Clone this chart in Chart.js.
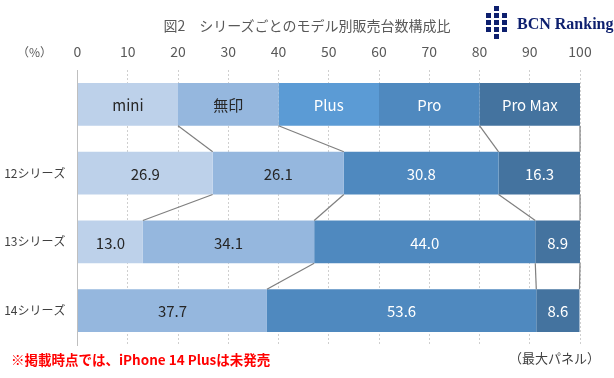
<!DOCTYPE html>
<html>
<head>
<meta charset="utf-8">
<script src="https://cdn.jsdelivr.net/npm/chart.js@4"></script>
<style>
  html, body { margin: 0; padding: 0; background: #fff; }
  #wrap { position: relative; width: 614px; height: 378px; overflow: hidden; font-family: "Noto Sans CJK JP", sans-serif; }
  #c { position: absolute; left: 0; top: 0; }
  .txt { position: absolute; white-space: nowrap; line-height: 1; }
  #title { left: 0; width: 614px; text-align: center; top: 18px; font-size: 14px; color: #595959; }
  #pct { left: 17px; top: 46px; font-size: 12px; color: #595959; }
  #note { left: 11px; top: 353px; font-size: 13.5px; font-weight: bold; color: #ff0000; }
  #panel { left: 509px; top: 351px; font-size: 13px; color: #404040; }
  #logo-text { left: 517px; top: 16px; font-family: "Liberation Serif", serif; font-weight: bold; font-size: 16px; color: #0d1f6e; }
  .sq { position: absolute; width: 5px; height: 5px; background: #0d1f6e; }
</style>
</head>
<body>
<div id="wrap">
  <canvas id="c" width="614" height="378"></canvas>
  <div class="txt" id="title">図2　シリーズごとのモデル別販売台数構成比</div>
  <div class="txt" id="pct">（%）</div>
  <div class="txt" id="note">※掲載時点では、iPhone 14 Plusは未発売</div>
  <div class="txt" id="panel">（最大パネル）</div>
  <div id="logo">
    <div class="sq" style="left:494px;top:6px"></div>
    <div class="sq" style="left:486px;top:13px"></div>
    <div class="sq" style="left:494px;top:13px"></div>
    <div class="sq" style="left:502px;top:13px"></div>
    <div class="sq" style="left:486px;top:20px"></div>
    <div class="sq" style="left:494px;top:20px"></div>
    <div class="sq" style="left:502px;top:20px"></div>
    <div class="sq" style="left:486px;top:27px"></div>
    <div class="sq" style="left:494px;top:27px"></div>
    <div class="sq" style="left:502px;top:27px"></div>
    <div class="sq" style="left:494px;top:34px"></div>
  </div>
  <div class="txt" id="logo-text">BCN Ranking</div>
</div>
<script>
// ---- data ----
const categories = ['', '12シリーズ', '13シリーズ', '14シリーズ'];
const seriesNames = ['mini', '無印', 'Plus', 'Pro', 'Pro Max'];
const miniValues = [20, 26.9, 13.0, 0];
const standardValues = [20, 26.1, 34.1, 37.7];
const plusValues = [20, 0, 0, 0];
const proValues = [20, 30.8, 44.0, 53.6];
const proMaxValues = [20, 16.3, 8.9, 8.6];
const xTickValues = [0, 10, 20, 30, 40, 50, 60, 70, 80, 90, 100];

// ---- styles ----
const seriesColors = ['#bdd1ea', '#95b7de', '#5b9bd5', '#4f89bf', '#44739f'];
const labelColors = ['#262626', '#262626', '#ffffff', '#ffffff', '#ffffff'];
const FONT = '"Noto Sans CJK JP", sans-serif';
Chart.defaults.font.family = FONT;

const seriesData = [miniValues, standardValues, plusValues, proValues, proMaxValues];

const labelPlugin = {
  id: 'barLabels',
  afterDatasetsDraw(chart) {
    const ctx = chart.ctx;
    const xScale = chart.scales.x;
    ctx.save();
    // connector (series) lines
    ctx.strokeStyle = '#7f7f7f';
    ctx.lineWidth = 1.2;
    for (let r = 0; r < categories.length - 1; r++) {
      for (let s = 0; s < seriesData.length; s++) {
        if (seriesData[s][r + 1] === 0) continue;
        let cu = 0, cl = 0;
        for (let k = 0; k <= s; k++) { cu += seriesData[k][r]; cl += seriesData[k][r + 1]; }
        const up = chart.getDatasetMeta(s).data[r];
        const lo = chart.getDatasetMeta(s).data[r + 1];
        const y1 = up.y + up.height / 2;
        const y2 = lo.y - lo.height / 2;
        ctx.beginPath();
        ctx.moveTo(xScale.getPixelForValue(Math.min(cu, 100)), y1);
        ctx.lineTo(xScale.getPixelForValue(Math.min(cl, 100)), y2);
        ctx.stroke();
      }
    }
    // labels
    ctx.font = '15px ' + FONT;
    ctx.textAlign = 'center';
    ctx.textBaseline = 'middle';
    chart.data.datasets.forEach((ds, s) => {
      const meta = chart.getDatasetMeta(s);
      meta.data.forEach((el, j) => {
        const v = ds.data[j];
        if (!v) return;
        const cx = (el.x + el.base) / 2;
        ctx.fillStyle = labelColors[s];
        const txt = j === 0 ? seriesNames[s] : v.toFixed(1);
        ctx.fillText(txt, cx, el.y + 1);
      });
    });
    ctx.restore();
  }
};

new Chart(document.getElementById('c'), {
  type: 'bar',
  data: {
    labels: categories,
    datasets: seriesData.map((d, i) => ({
      label: seriesNames[i],
      data: d,
      backgroundColor: seriesColors[i],
      borderWidth: 0,
      barPercentage: 0.62,
      categoryPercentage: 1.0
    }))
  },
  options: {
    indexAxis: 'y',
    responsive: false,
    animation: false,
    layout: { padding: { left: 0, top: 0, right: 34, bottom: 33 } },
    plugins: { legend: { display: false }, tooltip: { enabled: false } },
    scales: {
      x: {
        position: 'top',
        stacked: true,
        min: 0,
        max: 100,
        afterBuildTicks(scale) { scale.ticks = xTickValues.map(v => ({ value: v })); },
        afterFit(scale) { scale.height = 70; },
        ticks: { color: '#595959', font: { size: 14 }, padding: 10 },
        grid: { color: '#cfcfcf', lineWidth: 1, drawTicks: false },
        border: { display: false, dash: [2, 2] }
      },
      y: {
        stacked: true,
        afterFit(scale) { scale.width = 77.5; },
        ticks: { color: '#404040', font: { size: 12 }, padding: 12 },
        grid: { display: false, drawTicks: false },
        border: { display: true, color: '#bfbfbf', width: 1 }
      }
    }
  },
  plugins: [labelPlugin]
});
</script>
</body>
</html>
